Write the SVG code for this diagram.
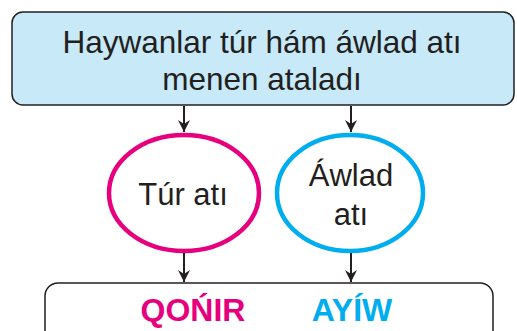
<svg xmlns="http://www.w3.org/2000/svg" width="517" height="331" viewBox="0 0 517 331">
<defs>
<marker id="ah" markerWidth="14" markerHeight="14" viewBox="0 0 14 14" refX="12" refY="7" orient="auto" markerUnits="userSpaceOnUse">
<path d="M0,1 L12,7 L0,13 L4,7 Z" fill="#231f20"/>
</marker>
<style>
.t{font-family:"Liberation Sans",Arial,sans-serif;fill:#231f20;text-anchor:middle}
.b{font-family:"Liberation Sans",Arial,sans-serif;font-weight:bold;text-anchor:middle;font-size:32px}
.c{stroke:#231f20;stroke-width:2;fill:none;marker-end:url(#ah)}
</style>
</defs>
<rect width="517" height="331" fill="#fff"/>
<g id="top">
<rect x="12" y="12" width="502" height="93" rx="11" fill="#c7e9f8" stroke="#231f20" stroke-width="1.5"/>
<text class="t" x="262" y="53" font-size="31.5">Haywanlar túr hám áwlad atı</text>
<text class="t" x="262" y="90" font-size="31.5">menen ataladı</text>
</g>
<g id="tur">
<ellipse cx="184" cy="193" rx="75" ry="58" fill="#fff" stroke="#e6007e" stroke-width="4.5"/>
<text class="t" x="183" y="205" font-size="31">Túr atı</text>
</g>
<g id="awlad">
<ellipse cx="350" cy="193" rx="73" ry="58" fill="#fff" stroke="#00aeef" stroke-width="4.5"/>
<text class="t" x="351" y="186" font-size="31">Áwlad</text>
<text class="t" x="351" y="225" font-size="31">atı</text>
</g>
<g id="bottom">
<rect x="45" y="283" width="448" height="70" rx="13" fill="#fff" stroke="#231f20" stroke-width="1.5"/>
<text class="b" x="193" y="321" fill="#e6007e">QOŃIR</text>
<text class="b" x="352" y="321" fill="#00aeef">AYÍW</text>
</g>
<g id="connectors">
<line class="c" x1="184" y1="106" x2="184" y2="132"/>
<line class="c" x1="351" y1="106" x2="351" y2="132"/>
<line class="c" x1="184" y1="253" x2="184" y2="282"/>
<line class="c" x1="351" y1="253" x2="351" y2="282"/>
</g>
</svg>
